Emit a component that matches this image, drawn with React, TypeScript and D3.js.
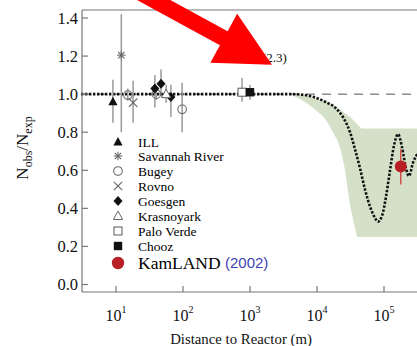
import * as React from "react";
import * as d3 from "d3";

// reactor experiments: distance (m), ratio, error bar low / high
const ILL = [{ d: 9, r: 0.96, lo: 0.85, hi: 1.075 }];
const SAVANNAH = [{ d: 12, r: 1.205, lo: 0.8, hi: 1.42 }];
const BUGEY = [
  { d: 15, r: 0.995, lo: 0.965, hi: 1.03 },
  { d: 40, r: 1.0, lo: 0.97, hi: 1.03 },
  { d: 97, r: 0.92, lo: 0.8, hi: 1.06 },
];
const ROVNO = [{ d: 18, r: 0.955, lo: 0.85, hi: 1.07 }];
const GOESGEN = [
  { d: 38, r: 1.03, lo: 0.93, hi: 1.1 },
  { d: 47, r: 1.055, lo: 1.0, hi: 1.13 },
  { d: 66, r: 0.985, lo: 0.88, hi: 1.05 },
];
const KRASNOYARK = [{ d: 56, r: 1.0, lo: 0.955, hi: 1.05 }];
const PALO_VERDE = [{ d: 760, r: 1.01, lo: 0.96, hi: 1.085 }];
const CHOOZ = [{ d: 1000, r: 1.01, lo: 0.97, hi: 1.05 }];
const KAMLAND = [{ d: 178000, r: 0.62, lo: 0.525, hi: 0.71 }];

// oscillation prediction (dotted line)
const CURVE_DIST = [
  3, 1000, 4390, 7870, 13200, 19900, 25300, 31100, 36900, 43900, 52000, 61800,
  73400, 81300, 93300, 107000, 123000, 141000, 162000, 186000, 213000, 236000,
  271000, 322000, 395000,
];
const CURVE_RATIO = [
  1.0, 1.0, 1.0, 0.99, 0.96, 0.92, 0.87, 0.8, 0.71, 0.61, 0.5, 0.41, 0.35, 0.33,
  0.36, 0.46, 0.6, 0.73, 0.79, 0.72, 0.61, 0.57, 0.64, 0.69, 0.72,
];

// shaded band
const BAND_DIST = [
  3950, 5570, 7870, 10000, 13200, 17300, 22000, 26200, 31100, 36900, 40500,
  47000, 395000,
];
const BAND_UPPER = [1.0, 1.0, 0.99, 0.975, 0.965, 0.945, 0.92, 0.9, 0.88, 0.855, 0.84, 0.82, 0.82];
const BAND_LOWER = [1.0, 0.975, 0.94, 0.91, 0.87, 0.8, 0.72, 0.6, 0.42, 0.3, 0.25, 0.25, 0.25];

const Y_TICKS = [0, 0.2, 0.4, 0.6, 0.8, 1.0, 1.2, 1.4];
const X_TICKS = [1e1, 1e2, 1e3, 1e4, 1e5];

const LEGEND = [
  { key: "ILL", kind: "triFill" },
  { key: "Savannah River", kind: "star" },
  { key: "Bugey", kind: "circle" },
  { key: "Rovno", kind: "cross" },
  { key: "Goesgen", kind: "diamond" },
  { key: "Krasnoyark", kind: "triOpen" },
  { key: "Palo Verde", kind: "squareOpen" },
  { key: "Chooz", kind: "squareFill" },
];

const SERIES = [
  { kind: "triFill", pts: ILL },
  { kind: "star", pts: SAVANNAH },
  { kind: "circle", pts: BUGEY },
  { kind: "cross", pts: ROVNO },
  { kind: "diamond", pts: GOESGEN },
  { kind: "triOpen", pts: KRASNOYARK },
  { kind: "squareOpen", pts: PALO_VERDE },
  { kind: "squareFill", pts: CHOOZ },
];

// arrow annotation, tip position in data space
const ARROW_TIP = { d: 2130, r: 1.155 };

const W = 417;
const H = 346;
const FRAME = { left: 82, top: 10, bottom: 292 };
const SERIF = "Liberation Serif";
const INK = "#111";
const GREY = "#666";

function Marker({ kind, x, y }: { kind: string; x: number; y: number }) {
  const s = 4.2;
  switch (kind) {
    case "triFill":
      return <path d={`M${x},${y - 5}L${x + 4.6},${y + 3.5}L${x - 4.6},${y + 3.5}Z`} fill={INK} />;
    case "triOpen":
      return (
        <path
          d={`M${x},${y - 5}L${x + 4.6},${y + 3.5}L${x - 4.6},${y + 3.5}Z`}
          fill="#fff"
          stroke={GREY}
          strokeWidth={1}
        />
      );
    case "star":
      return (
        <g stroke={GREY} strokeWidth={1.1}>
          <line x1={x} x2={x} y1={y - s} y2={y + s} />
          <line x1={x - s} x2={x + s} y1={y} y2={y} />
          <line x1={x - s * 0.75} x2={x + s * 0.75} y1={y - s * 0.75} y2={y + s * 0.75} />
          <line x1={x - s * 0.75} x2={x + s * 0.75} y1={y + s * 0.75} y2={y - s * 0.75} />
        </g>
      );
    case "circle":
      return <circle cx={x} cy={y} r={4.3} fill="none" stroke={GREY} strokeWidth={1.1} />;
    case "cross":
      return (
        <g stroke={GREY} strokeWidth={1.1}>
          <line x1={x - s} x2={x + s} y1={y - s} y2={y + s} />
          <line x1={x - s} x2={x + s} y1={y + s} y2={y - s} />
        </g>
      );
    case "diamond":
      return <path d={`M${x},${y - 5}L${x + 4.5},${y}L${x},${y + 5}L${x - 4.5},${y}Z`} fill={INK} />;
    case "squareOpen":
      return <rect x={x - 4} y={y - 4} width={8} height={8} fill="#fff" stroke={GREY} strokeWidth={1.1} />;
    case "squareFill":
      return <rect x={x - 4.2} y={y - 4.2} width={8.4} height={8.4} fill={INK} />;
    default:
      return null;
  }
}

export default function App() {
  const x = d3.scaleLog().domain([10, 1e5]).range([116, 384]);
  const y = d3.scaleLinear().domain([0, 1.4]).range([284.5, 18]);
  const right = W + 10;

  const line = d3
    .line<number>()
    .x((_, i) => x(CURVE_DIST[i]))
    .y((v) => y(v))
    .curve(d3.curveMonotoneX);

  const band = d3
    .area<number>()
    .x((_, i) => x(BAND_DIST[i]))
    .y0((_, i) => y(BAND_LOWER[i]))
    .y1((_, i) => y(BAND_UPPER[i]))
    .curve(d3.curveMonotoneX);

  // arrow geometry
  const tx = x(ARROW_TIP.d);
  const ty = y(ARROW_TIP.r);
  const ux = 0.877;
  const uy = 0.479;
  const headLen = 55;
  const headHalf = 28;
  const shaftHalf = 8;
  const bx = tx - ux * headLen;
  const by = ty - uy * headLen;
  const px = -uy;
  const py = ux;
  const back = 200;
  const arrowPts = [
    [tx, ty],
    [bx + px * headHalf, by + py * headHalf],
    [bx + px * shaftHalf, by + py * shaftHalf],
    [bx - ux * back + px * shaftHalf, by - uy * back + py * shaftHalf],
    [bx - ux * back - px * shaftHalf, by - uy * back - py * shaftHalf],
    [bx - px * shaftHalf, by - py * shaftHalf],
    [bx - px * headHalf, by - py * headHalf],
  ];

  const legendY = [142, 156, 171, 186, 201, 216, 231, 246];

  return (
    <svg
      width={W}
      height={H}
      style={{ position: "absolute", left: 0, top: 0, background: "#fff", fontFamily: SERIF }}
    >
      {/* band */}
      <path d={band(BAND_UPPER) ?? ""} fill="#d5e0c8" />

      {/* reference line at 1 */}
      <line
        x1={FRAME.left}
        x2={right}
        y1={y(1)}
        y2={y(1)}
        stroke="#555"
        strokeWidth={1}
        strokeDasharray="9 7"
      />

      {/* prediction */}
      <path
        d={line(CURVE_RATIO) ?? ""}
        fill="none"
        stroke={INK}
        strokeWidth={2.6}
        strokeDasharray="2.4 1.6"
      />

      {/* error bars */}
      {SERIES.flatMap((s) =>
        s.pts.map((p, i) => (
          <line
            key={`eb-${s.kind}-${i}`}
            x1={x(p.d)}
            x2={x(p.d)}
            y1={y(p.lo)}
            y2={y(p.hi)}
            stroke="#9a9a9a"
            strokeWidth={1.5}
          />
        )),
      )}
      {SERIES.flatMap((s) =>
        s.pts.map((p, i) => <Marker key={`m-${s.kind}-${i}`} kind={s.kind} x={x(p.d)} y={y(p.r)} />),
      )}

      {KAMLAND.map((p, i) => (
        <g key={`k-${i}`}>
          <line x1={x(p.d)} x2={x(p.d)} y1={y(p.lo)} y2={y(p.hi)} stroke="#d0302a" strokeWidth={1.2} />
          <circle cx={x(p.d)} cy={y(p.r)} r={6} fill="#b82025" />
        </g>
      ))}

      {/* legend */}
      {LEGEND.map((l, i) => (
        <g key={l.key}>
          <Marker kind={l.kind} x={118} y={legendY[i]} />
          <text x={138} y={legendY[i]} dy="0.35em" fontSize={13.5} fill="#000">
            {l.key}
          </text>
        </g>
      ))}
      <circle cx={118} cy={263} r={6.2} fill="#b82025" />
      <text x={138} y={263} dy="0.35em" fontSize={17.5} fill="#000">
        KamLAND
      </text>
      <text x={225} y={263} dy="0.3em" fontSize={15} fill="#3c3fb4" style={{ fontFamily: "Liberation Sans" }}>
        (2002)
      </text>

      {/* frame */}
      <g stroke="#777" strokeWidth={1.2} fill="none">
        <line x1={FRAME.left} x2={right} y1={FRAME.top} y2={FRAME.top} />
        <line x1={FRAME.left} x2={right} y1={FRAME.bottom} y2={FRAME.bottom} />
        <line x1={FRAME.left} x2={FRAME.left} y1={FRAME.top} y2={FRAME.bottom} />
      </g>

      {/* y axis */}
      {Y_TICKS.map((t) => (
        <g key={`y-${t}`}>
          <line x1={FRAME.left} x2={FRAME.left + 6} y1={y(t)} y2={y(t)} stroke="#777" strokeWidth={1.2} />
          <text x={78} y={y(t)} dy="0.35em" textAnchor="end" fontSize={16.5} fill={INK}>
            {d3.format(".1f")(t)}
          </text>
        </g>
      ))}
      <text transform="translate(28,148) rotate(-90)" textAnchor="middle" fontSize={17} fill={INK}>
        N
        <tspan dy={4} fontSize={12}>
          obs
        </tspan>
        <tspan dy={-4}>/N</tspan>
        <tspan dy={4} fontSize={12}>
          exp
        </tspan>
      </text>

      {/* x axis */}
      {X_TICKS.map((t) => (
        <g key={`x-${t}`}>
          <line x1={x(t)} x2={x(t)} y1={FRAME.bottom} y2={FRAME.bottom - 6} stroke="#777" strokeWidth={1.2} />
          <text x={x(t)} y={321} textAnchor="middle" fontSize={16} fill={INK}>
            10
            <tspan dy={-8} fontSize={10}>
              {Math.round(Math.log10(t))}
            </tspan>
          </text>
        </g>
      ))}
      <text x={241} y={344} textAnchor="middle" fontSize={14.8} fill={INK}>
        Distance to Reactor (m)
      </text>

      {/* annotation */}
      <text x={262} y={62} fontSize={13} fill={INK}>
        (2.3)
      </text>
      <polygon points={arrowPts.map((p) => p.join(",")).join(" ")} fill="#ff0000" />
    </svg>
  );
}
